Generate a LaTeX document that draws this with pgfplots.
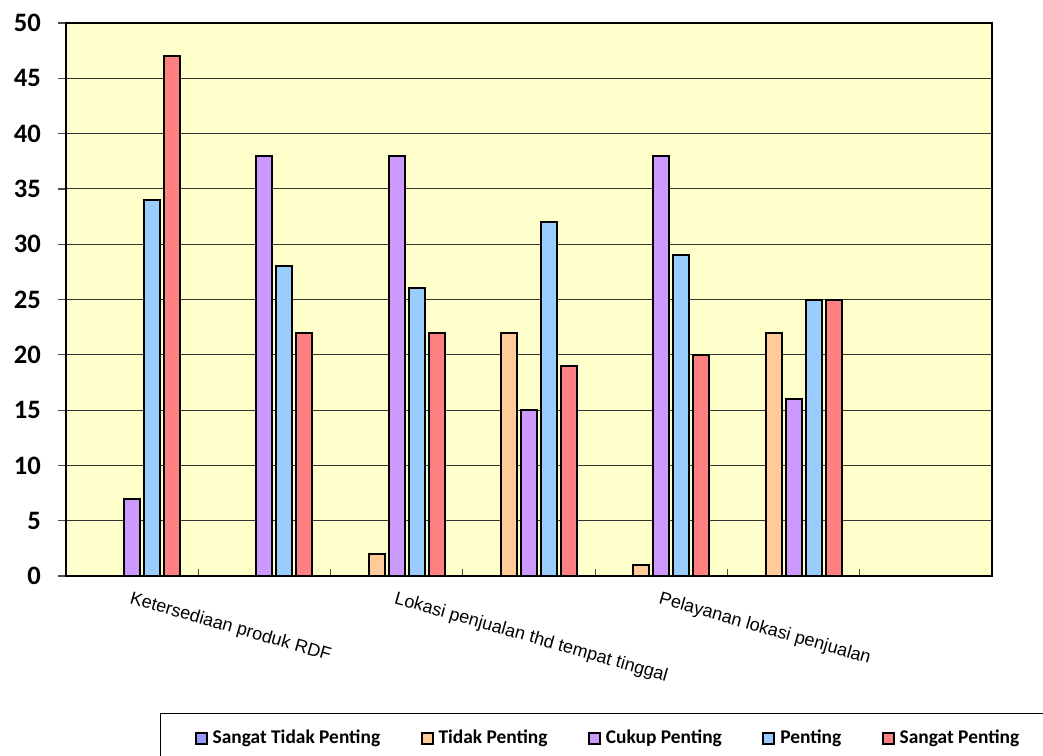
\documentclass[border=0pt]{standalone}
\usepackage{fontspec}
\setmainfont{Carlito}
\newfontfamily\arialfont{Liberation Sans}
\usepackage{pgfplots}
\pgfplotsset{compat=1.18}

\definecolor{cSTP}{HTML}{9999FF}
\definecolor{cTP}{HTML}{FFCC99}
\definecolor{cCP}{HTML}{CC99FF}
\definecolor{cP}{HTML}{99CCFF}
\definecolor{cSP}{HTML}{FF8080}
\definecolor{plotbg}{HTML}{FFFFCC}

\begin{document}
\begin{tikzpicture}
\useasboundingbox (-33pt,-89.5pt) rectangle (488.5pt,288pt);
\clip (-33pt,-89.5pt) rectangle (488.5pt,288pt);
\begin{axis}[
  at={(0,0)}, anchor=south west,
  scale only axis, width=463pt, height=276.5pt,
  ybar=2pt, bar width=8pt,
  xmin=-0.5, xmax=6.5, ymin=0, ymax=50,
  xtick={0,2,4},
  xticklabels={Ketersediaan produk RDF,Lokasi penjualan thd tempat tinggal,Pelayanan lokasi penjualan},
  minor xtick={0.5,1.5,...,5.5},
  major x tick style={draw=none},
  minor x tick style={black!70, line width=0.6pt},
  ytick={0,5,...,50},
  xtick pos=lower, ytick pos=left,
  tick align=outside,
  major tick length=4pt, minor tick length=-3.5pt,
  y tick style={black!70, line width=0.6pt},
  ymajorgrids,
  grid style={black!80, line width=0.5pt},
  axis background/.style={fill=plotbg},
  axis line style={black, line width=1pt},
  /pgf/number format/assume math mode=true,
  yticklabel style={font=\fontsize{13.3}{14}\selectfont\bfseries, xshift=-5pt},
  xticklabel style={font=\arialfont\fontsize{9}{10}\selectfont, rotate=-16, anchor=north west, inner sep=1pt, yshift=-2pt},
  every axis plot/.append style={draw=black, line width=1pt},
  legend columns=5,
  legend image code/.code={\draw[#1, line width=1pt] (0pt,-2.75pt) rectangle (5.5pt,2.75pt);},
  legend style={
    at={(axis description cs:0.1015,-0.2472)}, anchor=north west,
    draw=black, line width=0.6pt, fill=white,
    font=\fontsize{9.7}{11}\selectfont\bfseries,
    inner xsep=17pt, inner ysep=7.5pt,
    nodes={inner xsep=1pt, inner ysep=1pt},
    /tikz/every odd column/.append style={column sep=1.5pt},
    /tikz/every even column/.append style={column sep=19.2pt},
  },
]
\addplot[fill=cSTP] coordinates {(0,0) (1,0) (2,0) (3,0) (4,0) (5,0)};
\addplot[fill=cTP]  coordinates {(0,0) (1,0) (2,2) (3,22) (4,1) (5,22)};
\addplot[fill=cCP]  coordinates {(0,7) (1,38) (2,38) (3,15) (4,38) (5,16)};
\addplot[fill=cP]   coordinates {(0,34) (1,28) (2,26) (3,32) (4,29) (5,25)};
\addplot[fill=cSP]  coordinates {(0,47) (1,22) (2,22) (3,19) (4,20) (5,25)};
\legend{Sangat Tidak Penting,Tidak Penting,Cukup Penting,Penting,Sangat Penting}
\end{axis}
\end{tikzpicture}
\end{document}
